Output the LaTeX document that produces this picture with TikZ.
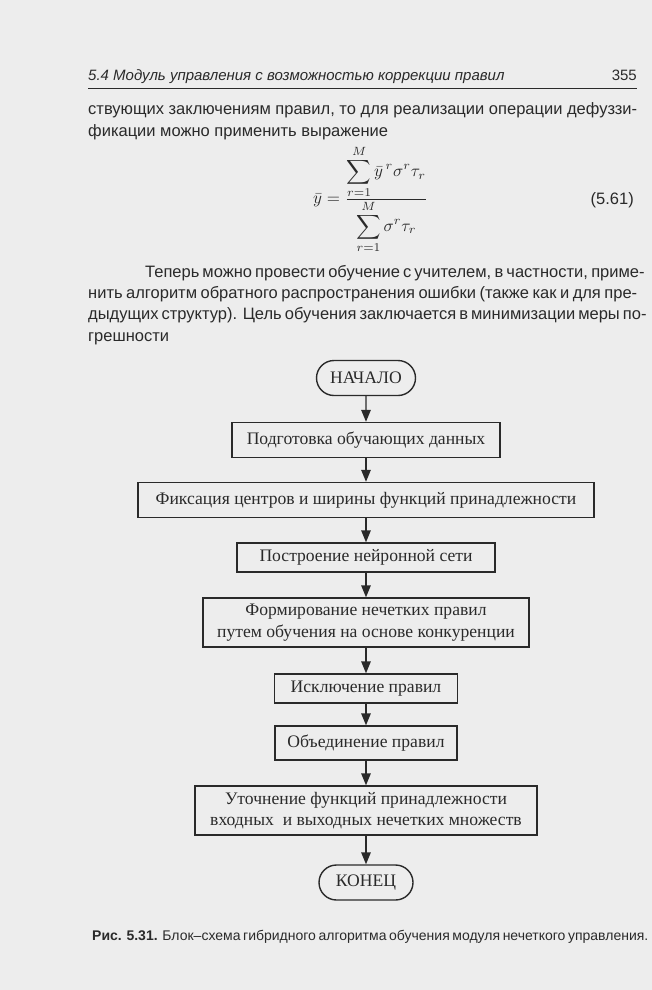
\documentclass[tikz,border=0pt]{standalone}
\usepackage{fontspec}
\usepackage{exscale}
\setmainfont{Liberation Sans}
\newfontfamily\rmf{Liberation Serif}
\usetikzlibrary{arrows.meta,shapes.misc}
\definecolor{pagebg}{HTML}{EDEDED}
\definecolor{ink}{HTML}{2A2A2A}
\begin{document}
\begin{tikzpicture}[x=1pt,y=-1pt,
  body/.style={anchor=base west, inner sep=0, text=ink, font=\fontsize{16.5}{20}\selectfont},
  blk/.style={draw=ink, line width=1.4pt, inner sep=0, text=ink, align=center,
              font=\rmf\fontsize{17.6}{21.5}\selectfont},
  term/.style={blk, rounded rectangle},
  arr/.style={draw=ink, line width=1.4pt, -{Triangle[length=12pt,width=9.5pt]}}]
\fill[pagebg] (0,0) rectangle (652,990);
\useasboundingbox (0,0) rectangle (652,990);

% header
\node[anchor=base west, inner sep=0, text=ink, font=\itshape\fontsize{15}{18}\selectfont] (hdr) at (88,81) {5.4 Модуль управления с возможностью коррекции правил};
\node[anchor=base east, inner sep=0, text=ink, font=\fontsize{15}{18}\selectfont] (pg) at (637,81) {355};
\draw[ink, line width=1pt] (88,88) -- (637,88);

% paragraph 1
\node[body] (p1a) at (88,114) {\makebox[549pt][s]{ствующих заключениям правил, то для реализации операции дефуззи-}};
\node[body] (p1b) at (88,136) {фикации можно применить выражение};

% formula
\node[anchor=base west, inner sep=0, text=ink] (frm) at (313,203.5)
  {\scalebox{1.7}{$\bar{y}=\frac{\displaystyle\sum_{r=1}^{M}\bar{y}^{\,r}\sigma^{r}\tau_{r}}{\displaystyle\sum_{r=1}^{M}\sigma^{r}\tau_{r}}$}};
\node[anchor=base east, inner sep=0, text=ink, font=\fontsize{16.5}{20}\selectfont] (eqn) at (634,204) {(5.61)};

% paragraph 2
\node[body] (p2a) at (145,277) {\makebox[492pt][s]{Теперь можно провести обучение с учителем, в частности, приме-}};
\node[body] (p2b) at (88,298) {\makebox[549pt][s]{нить алгоритм обратного распространения ошибки (также как и для пре-}};
\node[body] (p2c) at (88,319) {\makebox[549pt][s]{дыдущих структур). Цель обучения заключается в минимизации меры по-}};
\node[body] (p2d) at (88,341) {грешности};

% flowchart
\node[term, minimum width=99pt, minimum height=35pt] (start) at (366,378) {НАЧАЛО};
\node[blk, minimum width=268pt, minimum height=35pt] (b1) at (366,440) {Подготовка обучающих данных};
\node[blk, minimum width=456pt, minimum height=35pt] (b2) at (366,500) {Фиксация центров и ширины функций принадлежности};
\node[blk, minimum width=258pt, minimum height=29pt] (b3) at (366,557.5) {Построение нейронной сети};
\node[blk, minimum width=326pt, minimum height=49pt] (b4) at (366,622.5) {Формирование нечетких правил\\путем обучения на основе конкуренции};
\node[blk, minimum width=183pt, minimum height=29pt] (b5) at (366,688.5) {Исключение правил};
\node[blk, minimum width=182pt, minimum height=34pt] (b6) at (366,743) {Объединение правил};
\node[blk, minimum width=342pt, minimum height=49pt] (b7) at (366,810.5) {Уточнение функций принадлежности\\входных\ \ и выходных нечетких множеств};
\node[term, minimum width=94pt, minimum height=35pt] (stop) at (366,882.5) {КОНЕЦ};

\draw[arr] (start) -- (b1);
\draw[arr] (b1) -- (b2);
\draw[arr] (b2) -- (b3);
\draw[arr] (b3) -- (b4);
\draw[arr] (b4) -- (b5);
\draw[arr] (b5) -- (b6);
\draw[arr] (b6) -- (b7);
\draw[arr] (b7) -- (stop);

% caption
\node[anchor=base west, inner sep=0, text=ink, font=\fontsize{14}{16}\selectfont] (cap) at (92,940)
  {\makebox[545pt][s]{\textbf{Рис. 5.31.} Блок–схема гибридного алгоритма обучения модуля нечеткого управления.}};
\end{tikzpicture}
\end{document}
